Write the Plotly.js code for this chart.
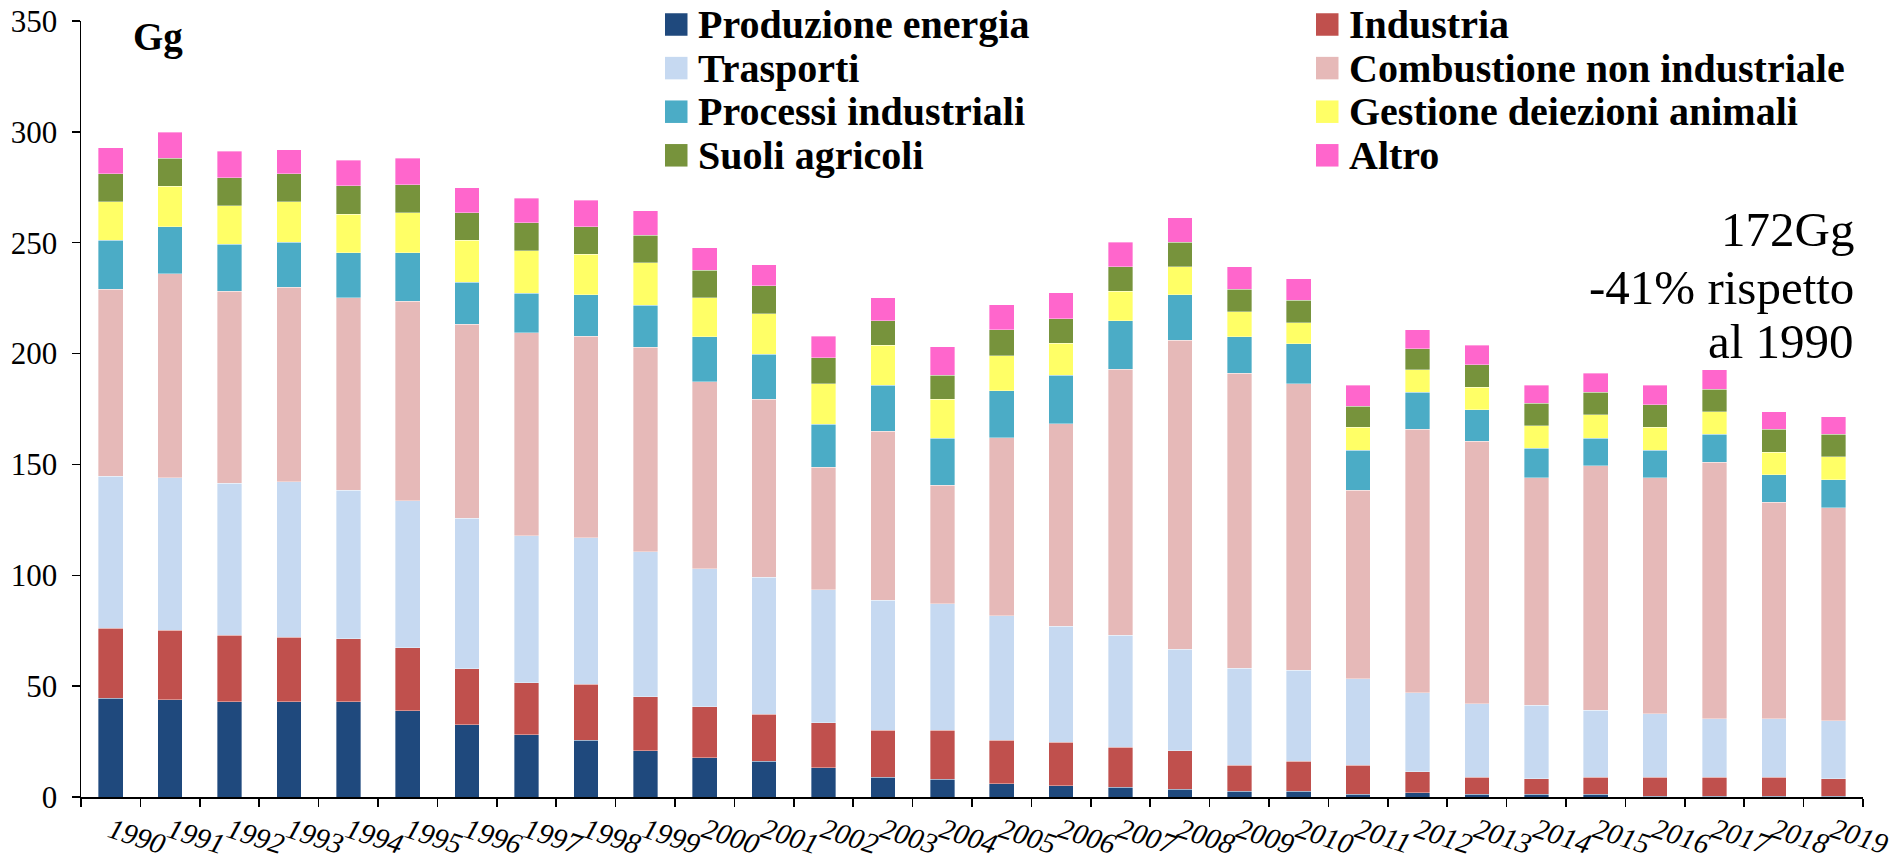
<!DOCTYPE html>
<html>
<head>
<meta charset="utf-8">
<script src="https://cdn.plot.ly/plotly-3.0.1.min.js"></script>
<style>html,body{margin:0;padding:0;background:#fff;}#chart{width:1895px;height:862px;}</style>
</head>
<body>
<div id="chart"></div>
<script>
const years = ['1990','1991','1992','1993','1994','1995','1996','1997','1998','1999',
  '2000','2001','2002','2003','2004','2005','2006','2007','2008','2009',
  '2010','2011','2012','2013','2014','2015','2016','2017','2018','2019'];

const produzioneEnergia = [44.6,43.8,42.9,42.9,42.9,39.0,32.7,28.0,25.7,20.9,
  17.6,16.2,13.1,9.0,8.1,5.9,5.0,4.4,3.6,2.7,
  2.7,1.2,2.0,1.2,1.2,1.2,0.4,0.3,0.3,0.3];
const industria = [31.5,31.4,30.0,29.1,28.4,28.4,25.2,23.6,25.1,24.4,
  23.0,21.1,20.4,21.2,22.1,19.7,19.7,18.0,17.2,11.7,
  13.4,13.2,9.4,7.8,7.1,7.8,8.6,8.7,8.7,8.0];
const trasporti = [68.6,68.7,68.6,70.3,67.0,66.3,67.8,66.3,66.2,65.4,
  62.4,61.8,60.0,58.5,57.0,56.2,52.3,50.5,45.8,43.6,
  41.0,39.0,35.7,33.1,33.1,30.1,28.6,26.2,26.2,26.2];
const combustioneNonInd = [84.3,92.2,86.7,87.6,86.8,89.9,87.5,91.4,90.8,92.1,
  84.2,80.3,55.2,76.2,53.5,80.3,91.4,120.0,139.5,133.1,
  129.3,84.9,118.7,118.3,102.5,110.4,106.3,115.8,97.7,96.0];
const processiInd = [22.1,21.2,21.2,20.3,20.3,21.8,19.0,18.0,18.8,19.1,
  20.3,20.3,19.4,20.8,21.1,21.2,21.9,21.8,20.5,16.6,
  18.1,18.1,16.7,14.2,13.4,12.4,12.5,12.6,12.5,12.7];
const gestioneDeiezioni = [17.3,18.1,17.3,18.2,17.4,18.2,18.9,19.0,18.2,19.0,
  17.6,18.3,18.3,18.0,17.6,15.8,14.3,13.5,12.6,11.1,
  9.5,10.4,10.3,10.3,10.2,10.4,10.4,10.2,10.2,10.2];
const suoliAgricoli = [12.6,12.7,12.5,12.6,12.8,12.6,12.5,12.6,12.5,12.5,
  12.5,12.5,11.8,11.0,10.9,11.7,11.0,10.9,11.0,10.2,
  10.1,9.4,9.3,10.1,10.2,10.2,10.2,10.2,10.2,10.2];
const altro = [11.9,11.7,12.0,11.0,11.7,11.9,11.1,11.1,11.9,11.1,
  10.2,9.6,9.6,10.4,12.7,11.3,11.9,11.1,11.1,10.2,
  9.7,9.5,8.7,8.7,8.0,8.6,8.7,8.8,8.0,7.8];

const seriesNames = ['Produzione energia','Industria','Trasporti','Combustione non industriale',
  'Processi industriali','Gestione deiezioni animali','Suoli agricoli','Altro'];
const seriesValues = [produzioneEnergia, industria, trasporti, combustioneNonInd,
  processiInd, gestioneDeiezioni, suoliAgricoli, altro];
const seriesColors = ['#1F497D','#C0504D','#C6D9F1','#E6B9B8','#4BACC6','#FFFF66','#77933C','#FF66CC'];

const yTickVals = [0,50,100,150,200,250,300,350];
const unitLabel = 'Gg';
const noteLines = ['172Gg','-41% rispetto','al 1990'];

const serif = 'Liberation Serif';

const traces = seriesNames.map((n, i) => ({
  type: 'bar',
  name: n,
  x: years,
  y: seriesValues[i],
  marker: {color: seriesColors[i], line: {width: 0.6, color: 'rgba(255,255,255,0.6)'}},
  showlegend: false,
  hoverinfo: 'name+y'
}));

const W = 1895, H = 862;
const M = {l: 81, r: 32, t: 21, b: 65};
const plotW = W - M.l - M.r, plotH = H - M.t - M.b;
// convert page pixel positions into paper fractions (paper = plot area)
const px = v => (v - M.l) / plotW;
const py = v => (H - M.b - v) / plotH;

const shapes = [];
const annotations = [];

// Legend (two columns, four rows) built from the series arrays
const colMarkerX = [665, 1316];
const rowY0 = 24.5, rowStep = 43.6, box = 22.5;
seriesNames.forEach((n, i) => {
  const col = i % 2, row = Math.floor(i / 2);
  const cy = rowY0 + row * rowStep;
  const x0 = colMarkerX[col];
  shapes.push({type: 'rect', xref: 'paper', yref: 'paper',
    x0: px(x0), x1: px(x0 + box), y0: py(cy + box / 2), y1: py(cy - box / 2),
    fillcolor: seriesColors[i], line: {width: 0}});
  annotations.push({xref: 'paper', yref: 'paper', x: px(x0 + box + 8), y: py(cy),
    xanchor: 'left', yanchor: 'middle', showarrow: false, text: '<b>' + n + '</b>',
    font: {family: serif, size: 40, color: '#000'}});
});

annotations.push({xref: 'paper', yref: 'paper', x: px(131), y: py(37),
  xanchor: 'left', yanchor: 'middle', showarrow: false, text: '<b>' + unitLabel + '</b>',
  font: {family: serif, size: 39, color: '#000'}});

const noteCY = [229, 287.5, 341.7];
noteLines.forEach((t, i) => {
  annotations.push({xref: 'paper', yref: 'paper', x: px(1856), y: py(noteCY[i]),
    xanchor: 'right', yanchor: 'middle', showarrow: false, text: t,
    font: {family: serif, size: 49, color: '#000'}});
});

const layout = {
  width: W, height: H,
  margin: {l: M.l, r: M.r, t: M.t, b: M.b, pad: 0},
  paper_bgcolor: '#fff', plot_bgcolor: '#fff',
  barmode: 'stack',
  bargap: 0.586,
  showlegend: false,
  font: {family: serif, color: '#000'},
  xaxis: {
    type: 'category',
    showline: true, linecolor: '#000', linewidth: 1.5,
    ticks: 'outside', tickson: 'boundaries', ticklen: 8, tickwidth: 1.5, tickcolor: '#000',
    tickangle: 18,
    ticklabelstandoff: 4,
    tickfont: {family: serif, size: 29, style: 'italic', color: '#000'},
    showgrid: false, zeroline: false, fixedrange: true
  },
  yaxis: {
    range: [0, 350], tickvals: yTickVals, ticktext: yTickVals.map(String),
    showline: true, linecolor: '#000', linewidth: 1.5,
    ticks: 'outside', ticklen: 8, tickwidth: 1.5, tickcolor: '#000',
    tickfont: {family: serif, size: 31, color: '#000'},
    ticklabelstandoff: 8,
    showgrid: false, zeroline: false, fixedrange: true
  },
  shapes: shapes,
  annotations: annotations
};

Plotly.newPlot('chart', traces, layout, {displayModeBar: false, staticPlot: true});
</script>
</body>
</html>
